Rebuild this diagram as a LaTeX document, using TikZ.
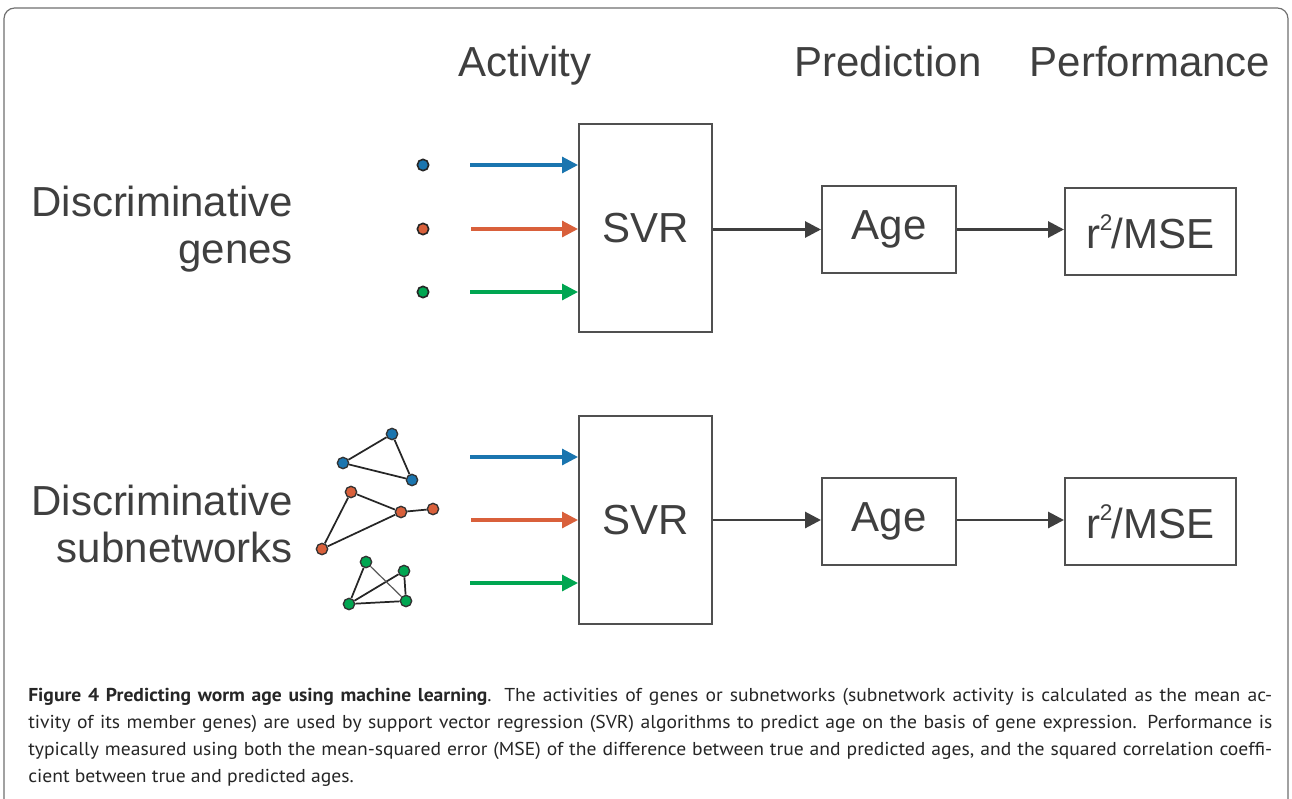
\documentclass[tikz,border=0pt]{standalone}
\usepackage{fontspec}
\setmainfont{Liberation Sans}
\newfontfamily\capfont[FakeStretch=1.05]{PT Sans}
\usetikzlibrary{arrows.meta}
\definecolor{txt}{HTML}{3F3F3F}
\definecolor{boxc}{HTML}{505050}
\definecolor{frm}{HTML}{707070}
\definecolor{cblue}{HTML}{1A75AF}
\definecolor{corange}{HTML}{D9603B}
\definecolor{cgreen}{HTML}{00A651}
\newcommand{\rsq}{r\kern-0.5pt\raisebox{0.42em}{\fontsize{17pt}{17pt}\selectfont 2}\kern-0.5pt/MSE}
\newcommand{\jline}[1]{\hbox to 933pt{#1}}
\begin{document}
\begin{tikzpicture}[x=0.75pt,y=-0.75pt,
  big/.style={font=\fontsize{31.5pt}{38pt}\selectfont, text=txt, inner sep=0pt},
  blockbox/.style={draw=boxc, line width=1.5pt, fill=white, inner sep=0pt, font=\fontsize{31.5pt}{38pt}\selectfont, text=txt},
  flow/.style={draw=txt, line width=2.2pt, -{Triangle[length=12pt,width=12pt]}},
  carrow/.style={line width=2.3pt, -{Triangle[length=12pt,width=12pt]}},
  dot/.style={circle, draw=black!85, line width=1.2pt, inner sep=0pt, minimum size=8.5pt},
  gnode/.style={circle, draw=black!80, line width=1pt, inner sep=0pt, minimum size=8.5pt},
  edge/.style={draw=black!85, line width=1.3pt},
  capline/.style={anchor=base west, inner sep=0pt, font=\capfont\fontsize{14pt}{16pt}\selectfont, text=black!85}
]
\useasboundingbox (0,0) rectangle (1292,799);
\fill[white] (0,0) rectangle (1292,799);
% frame
\draw[frm, line width=0.9pt, rounded corners=8pt] (4,850) -- (4,8) -- (1288,8) -- (1288,850);

% headers
\node[big, anchor=base] (hact) at (525,77) {Activity};
\node[big, anchor=base] (hpred) at (888,77) {Prediction};
\node[big, anchor=base] (hperf) at (1150,77) {Performance};

% row labels
\node[big, align=right, anchor=east, font=\fontsize{31.5pt}{35pt}\selectfont] (lgenes) at (293,229) {Discriminative\\genes};
\node[big, align=right, anchor=east, font=\fontsize{31.5pt}{35pt}\selectfont] (lsub) at (293,524) {Discriminative\\subnetworks};

% ---- top row ----
\node[blockbox, minimum width=99.75pt, minimum height=156pt] (svr1) at (645.5,228) {SVR};
\node[blockbox, minimum width=100.5pt, minimum height=65.25pt] (age1) at (889,229.5) {\raisebox{-3pt}{Age}};
\node[blockbox, minimum width=128.25pt, minimum height=65.25pt] (perf1) at (1150.5,231.5) {\rsq};

\node[dot, fill=cblue] (d1) at (423,165) {};
\node[dot, fill=corange] (d2) at (423,229) {};
\node[dot, fill=cgreen] (d3) at (423,292) {};
\coordinate (s1) at (470,165);
\coordinate (s2) at (471,229);
\coordinate (s3) at (470,292);
\draw[carrow, cblue] (s1) -- (s1 -| svr1.west);
\draw[carrow, corange] (s2) -- (s2 -| svr1.west);
\draw[carrow, cgreen] (s3) -- (s3 -| svr1.west);

\draw[flow] (svr1.east |- age1.west) -- (age1.west);
\draw[flow] (age1.east) -- (age1.east -| perf1.west);

% ---- bottom row ----
\node[blockbox, minimum width=99.75pt, minimum height=156pt] (svr2) at (645.5,520) {SVR};
\node[blockbox, minimum width=100.5pt, minimum height=65.25pt] (age2) at (889,521.5) {\raisebox{-3pt}{Age}};
\node[blockbox, minimum width=128.25pt, minimum height=65.25pt] (perf2) at (1150.5,521.5) {\rsq};

\coordinate (t1) at (470,457);
\coordinate (t2) at (471,520);
\coordinate (t3) at (470,583);
\draw[carrow, cblue] (t1) -- (t1 -| svr2.west);
\draw[carrow, corange] (t2) -- (t2 -| svr2.west);
\draw[carrow, cgreen] (t3) -- (t3 -| svr2.west);

\coordinate (m2) at (0,520);
\draw[flow] (svr2.east |- m2) -- (age2.west |- m2);
\draw[flow] (age2.east |- m2) -- (perf2.west |- m2);

% subnetworks
\node[gnode, fill=cblue] (b1) at (392,434) {};
\node[gnode, fill=cblue] (b2) at (343,463) {};
\node[gnode, fill=cblue] (b3) at (412,480) {};
\draw[edge] (b1) -- (b2) (b2) -- (b3) (b3) -- (b1);

\node[gnode, fill=corange] (o1) at (351,492) {};
\node[gnode, fill=corange] (o2) at (401,512) {};
\node[gnode, fill=corange] (o3) at (433,509) {};
\node[gnode, fill=corange] (o4) at (322,549) {};
\draw[edge] (o1) -- (o2) (o2) -- (o3) (o2) -- (o4) (o1) -- (o4);

\node[gnode, fill=cgreen] (g1) at (366,562) {};
\node[gnode, fill=cgreen] (g2) at (404,571) {};
\node[gnode, fill=cgreen] (g3) at (406,601) {};
\node[gnode, fill=cgreen] (g4) at (349,604) {};
\draw[edge] (g1) -- (g4) (g2) -- (g4) (g2) -- (g3) (g4) -- (g3);
\draw[edge, line width=0.9pt, black!65] (g1) -- (g3);

% caption
\node[capline] (c1) at (28,701) {\jline{\textbf{Figure 4 Predicting worm age using machine learning}. The activities of genes or subnetworks (subnetwork activity is calculated as the mean ac-}};
\node[capline] (c2) at (28,728) {\jline{tivity of its member genes) are used by support vector regression (SVR) algorithms to predict age on the basis of gene expression. Performance is}};
\node[capline] (c3) at (28,755) {\jline{typically measured using both the mean-squared error (MSE) of the difference between true and predicted ages, and the squared correlation coeffi-}};
\node[capline] (c4) at (28,782) {cient between true and predicted ages.};
\end{tikzpicture}
\end{document}
